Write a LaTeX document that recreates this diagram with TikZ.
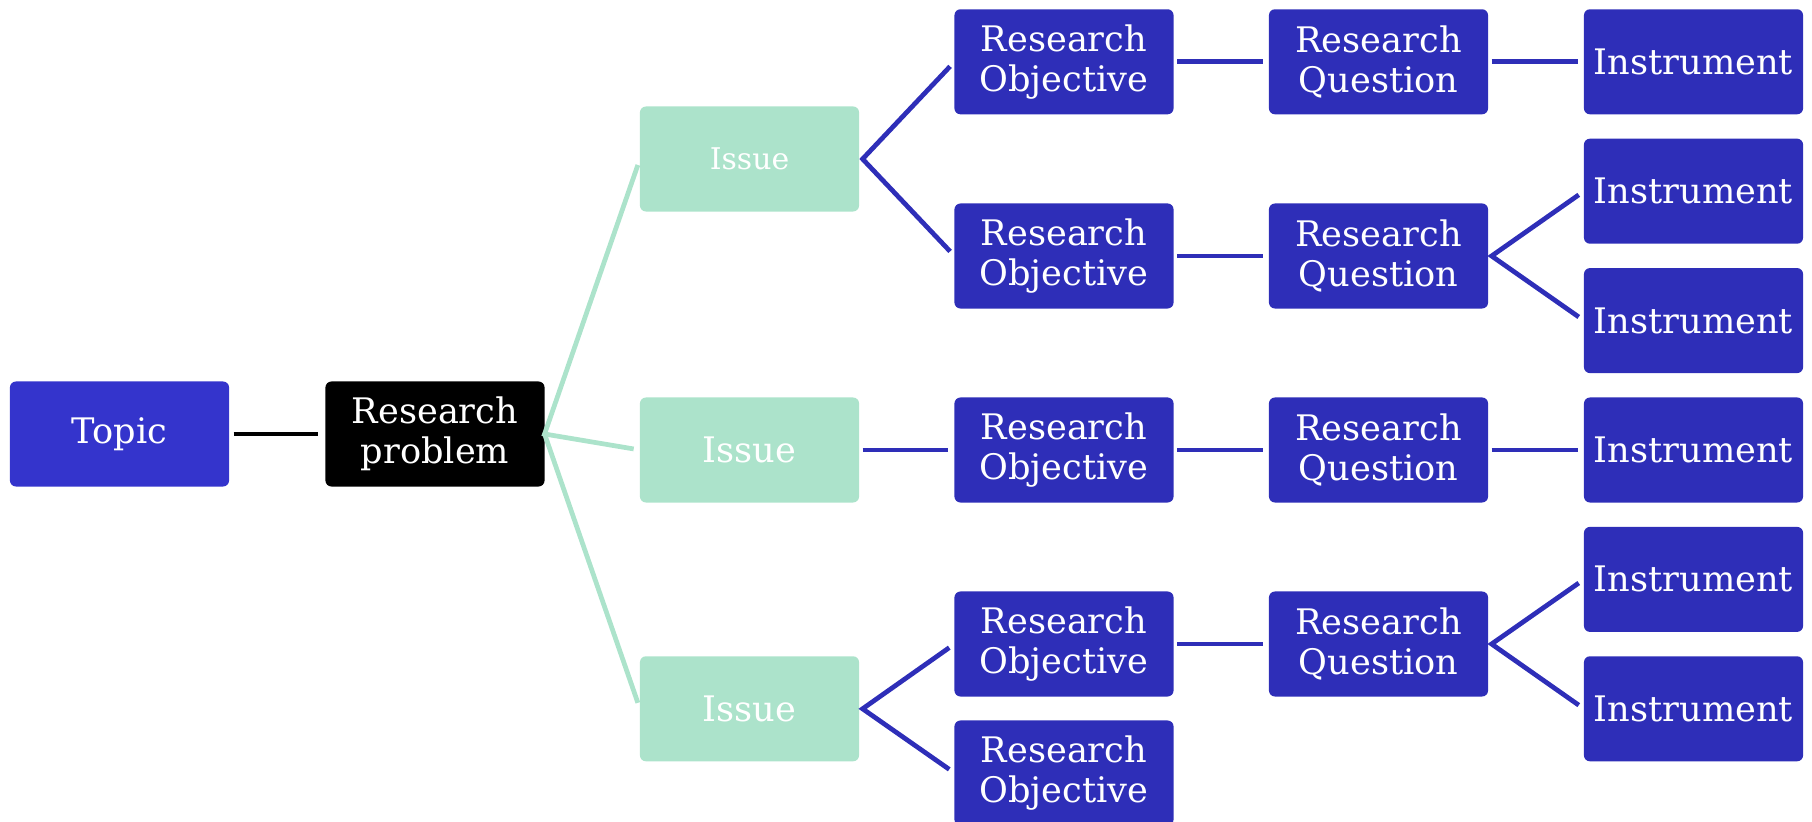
\documentclass[tikz,border=0pt]{standalone}
\usepackage{fontspec}
\setmainfont{DejaVu Serif}
\definecolor{topicblue}{HTML}{3434CC}
\definecolor{boxblue}{HTML}{2E2EB8}
\definecolor{issuegreen}{HTML}{ACE3CB}

\begin{document}
\begin{tikzpicture}[x=0.01cm,y=-0.01cm,every node/.style={outer sep=0pt}]
\tikzstyle{box}=[rounded corners=0.06cm,minimum width=2.19cm,minimum height=1.05cm,inner sep=0pt,text=white,align=center,font=\fontsize{10}{11.5}\selectfont]
\tikzstyle{bluebox}=[box,fill=boxblue]
\tikzstyle{issue}=[box,fill=issuegreen]
\tikzstyle{link}=[line width=1.35pt,draw=boxblue,line join=miter,shorten >=1.8pt]

\useasboundingbox (0,0) rectangle (1812,822);

\node (topic) [box,fill=topicblue] at (119.5,434) {Topic};
\node (problem) [box,fill=black] at (435,434) {Research\\problem};

\node (issue1) [issue,font=\fontsize{8.5}{10}\selectfont] at (749.5,159) {Issue};
\node (issue2) [issue] at (749.5,450) {Issue};
\node (issue3) [issue] at (749.5,708.8) {Issue};

\node (obj1) [bluebox] at (1064,61.8) {Research\\Objective};
\node (obj2) [bluebox] at (1064,256) {Research\\Objective};
\node (obj3) [bluebox] at (1064,450) {Research\\Objective};
\node (obj4) [bluebox] at (1064,644) {Research\\Objective};
\node (obj5) [bluebox] at (1064,773) {Research\\Objective};

\node (quest1) [bluebox] at (1378.5,61.8) {Research\\Question};
\node (quest2) [bluebox] at (1378.5,256) {Research\\Question};
\node (quest3) [bluebox] at (1378.5,450) {Research\\Question};
\node (quest4) [bluebox] at (1378.5,644) {Research\\Question};

\foreach \i/\y in {1/61.8,2/191.2,3/320.6,4/450,5/579.4,6/708.8}
  \node (instr\i) [bluebox] at (1693.5,\y) {Instrument};

% topic to problem to issues
\draw [line width=1.35pt,shorten <=1.3pt,shorten >=2pt] (topic.east) -- (problem.west);
\draw [link,draw=issuegreen,shorten <=1.8pt] (issue1.west) -- (problem.east) -- (issue2.west);
\draw [link,draw=issuegreen] (problem.east) -- (issue3.west);

% issues to objectives
\draw [link,shorten <=1.8pt] (obj1.west) -- ([xshift=1pt]issue1.east) -- (obj2.west);
\draw [link,shorten <=1pt] (issue2.east) -- (obj3.west);
\draw [link,shorten <=1.8pt] (obj4.west) -- ([xshift=1pt]issue3.east) -- (obj5.west);

% objectives to questions
\draw [link,shorten <=1pt] (obj1.east) -- (quest1.west);
\draw [link,shorten <=1pt] (obj2.east) -- (quest2.west);
\draw [link,shorten <=1pt] (obj3.east) -- (quest3.west);
\draw [link,shorten <=1pt] (obj4.east) -- (quest4.west);

% questions to instruments
\draw [link,shorten <=1pt] (quest1.east) -- (instr1.west);
\draw [link,shorten <=1.8pt] (instr2.west) -- ([xshift=1pt]quest2.east) -- (instr3.west);
\draw [link,shorten <=1pt] (quest3.east) -- (instr4.west);
\draw [link,shorten <=1.8pt] (instr5.west) -- ([xshift=1pt]quest4.east) -- (instr6.west);
\end{tikzpicture}
\end{document}
